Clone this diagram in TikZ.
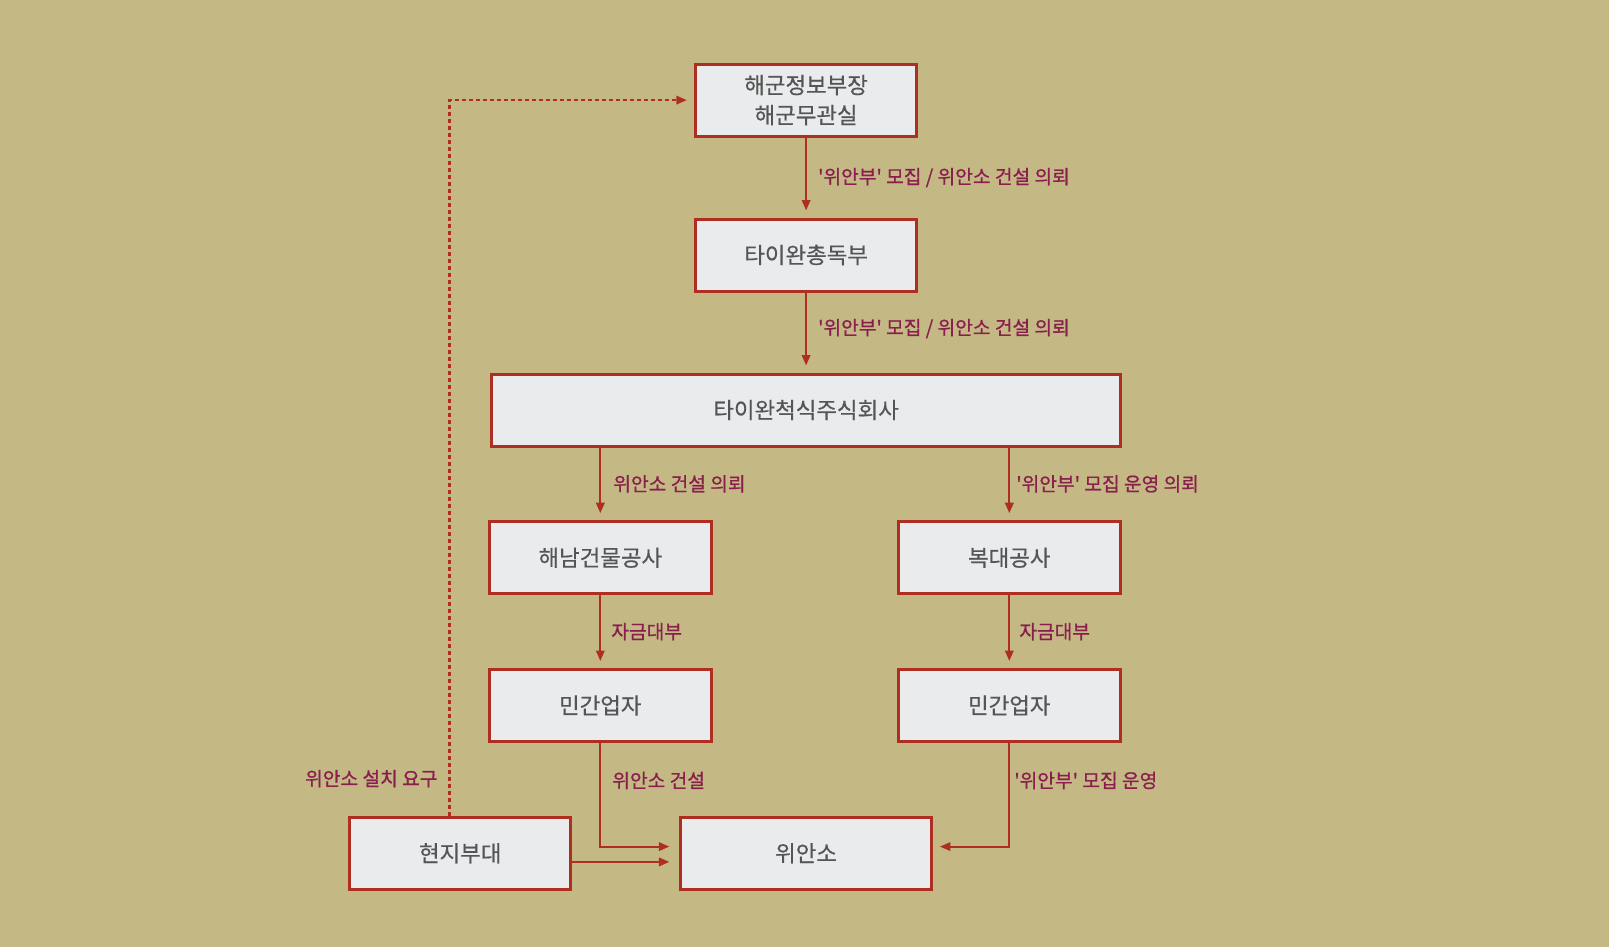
\documentclass[tikz,border=0pt]{standalone}
\usepackage{fontspec}
\setmainfont{Noto Sans CJK KR}
\newfontfamily\boxfont{Noto Sans CJK KR}[FakeBold=0.5]
\newfontfamily\labfont{Noto Sans CJK KR}[FakeBold=0.9]
\usetikzlibrary{arrows.meta}
\definecolor{paper}{HTML}{C4B985}
\definecolor{boxred}{HTML}{AE2F22}
\definecolor{boxfill}{HTML}{EAEBED}
\definecolor{boxtext}{HTML}{555555}
\definecolor{labred}{HTML}{8A1F4E}
\newcommand{\sq}{\textquotesingle}
\begin{document}
\begin{tikzpicture}[x=1pt,y=-1pt,
        box/.style={draw=boxred, line width=3pt, fill=boxfill, text=boxtext,
            font=\boxfont\fontsize{22.4}{30}\selectfont, align=center, inner sep=0pt,
            minimum width=221.5pt, minimum height=72pt},
        link/.style={draw=boxred, line width=2.1pt, -{Triangle[length=10.5pt,width=8.5pt]},
            shorten >=7pt},
        lab/.style={text=labred, font=\labfont\fontsize{19.2}{20}\selectfont,
            anchor=west, inner sep=0pt}]
        \fill[paper] (0,0) rectangle (1609,947);
        %Top
        \node[box] (navy) at (806.1,100.1) {해군정보부장\\해군무관실};
        \node[box] (gov) at (806.1,255) {타이완총독부};
        \node[box, minimum width=629.5pt] (corp) at (806.1,410) {타이완척식주식회사};
        %Left branch
        \node[box, minimum width=222.5pt] (hainan) at (600.3,557.7) {해남건물공사};
        \node[box, minimum width=222.5pt] (tradera) at (600.3,705.5) {민간업자};
        %Right branch
        \node[box, minimum width=222.5pt] (fudai) at (1009.3,557.7) {복대공사};
        \node[box, minimum width=222.5pt] (traderb) at (1009.3,705.5) {민간업자};
        %Bottom
        \node[box] (unit) at (460.2,853.3) {현지부대};
        \node[box, minimum width=250.5pt] (station) at (806.1,853.3) {위안소};
        %Orders
        \draw[link] (navy) -- (gov)
        node[lab, pos=.5, xshift=11pt] {\sq{}위안부\sq{} 모집 / 위안소 건설 의뢰};
        \draw[link] (gov) -- (corp)
        node[lab, pos=.45, xshift=11pt] {\sq{}위안부\sq{} 모집 / 위안소 건설 의뢰};
        \draw[link] (corp.south -| hainan) -- (hainan)
        node[lab, pos=.5, xshift=12pt] {위안소 건설 의뢰};
        \draw[link] (corp.south -| fudai) -- (fudai)
        node[lab, pos=.5, xshift=6pt] {\sq{}위안부\sq{} 모집 운영 의뢰};
        \draw[link] (hainan) -- (tradera)
        node[lab, pos=.5, xshift=10pt] {자금대부};
        \draw[link] (fudai) -- (traderb)
        node[lab, pos=.5, xshift=9pt] {자금대부};
        %Stations
        \draw[link, shorten >=10pt] (tradera) |- ([yshift=6.7pt]station.west)
        node[lab, pos=.181, xshift=11pt] {위안소 건설};
        \draw[link] (traderb) |- ([yshift=6.7pt]station.east)
        node[lab, pos=.181, xshift=4pt] {\sq{}위안부\sq{} 모집 운영};
        \draw[link, shorten >=10pt] ([yshift=-8.6pt]unit.east) -- ([yshift=-8.6pt]station.west);
        %Request
        \draw[link, dash pattern=on 4pt off 3pt] ([xshift=-10.7pt]unit.north) |- (navy.west)
        node[lab, pos=.026, anchor=east, xshift=-11pt] {위안소 설치 요구};
\end{tikzpicture}
\end{document}
